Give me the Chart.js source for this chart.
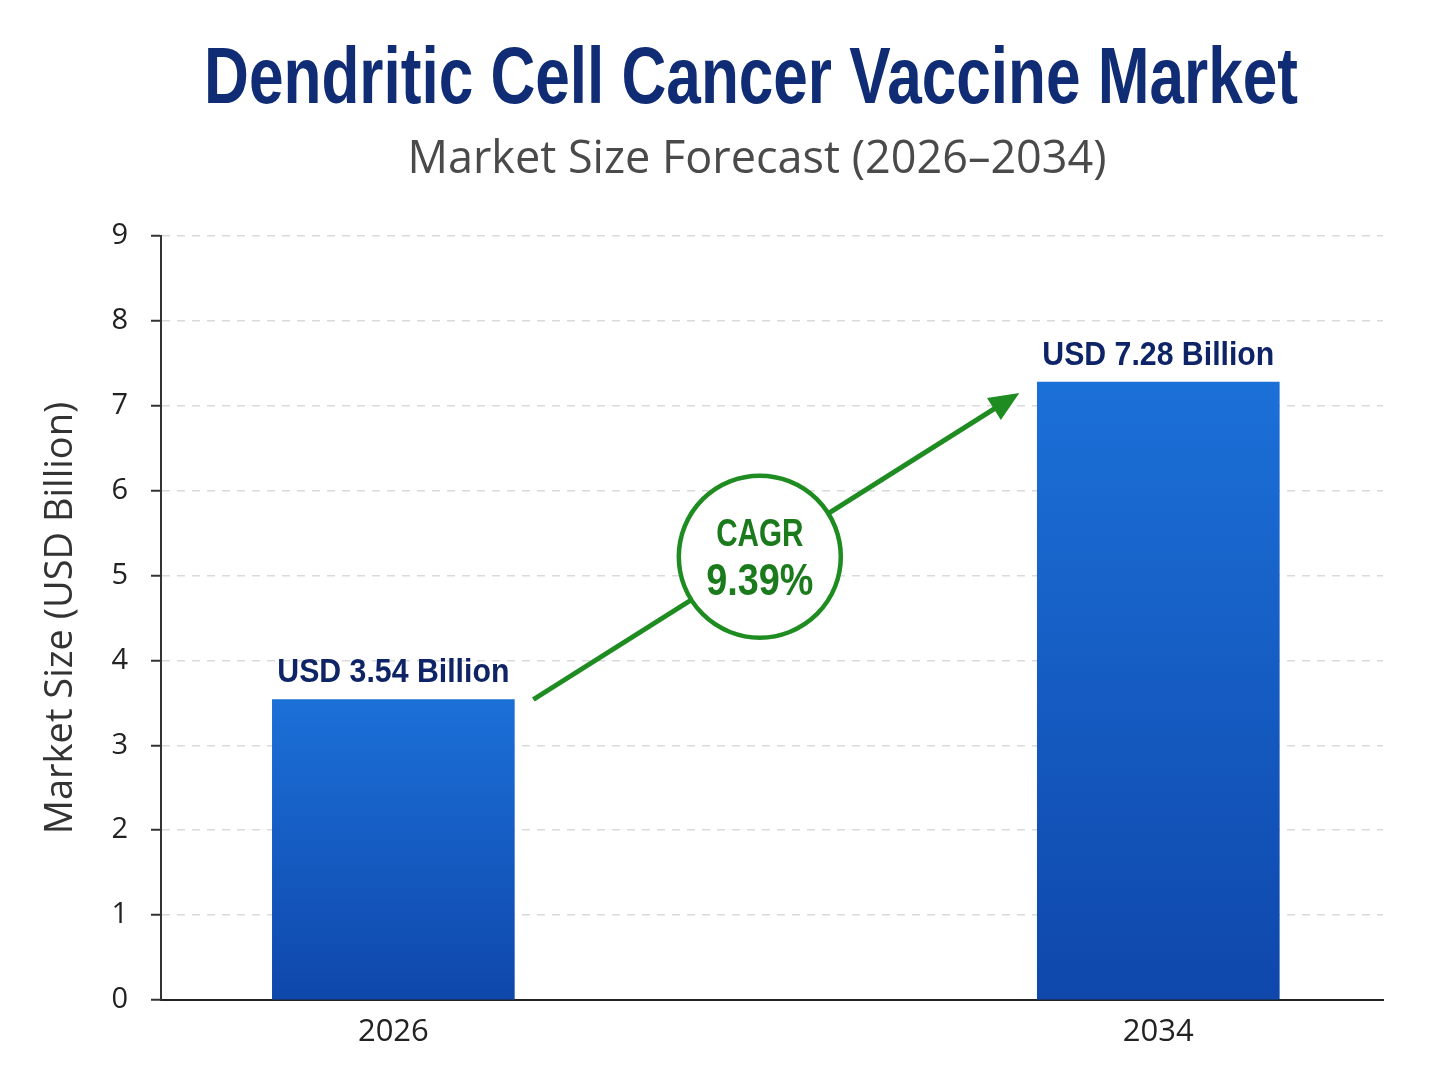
<!DOCTYPE html>
<html>
<head>
<meta charset="utf-8">
<title>Dendritic Cell Cancer Vaccine Market</title>
<script src="https://cdn.jsdelivr.net/npm/chart.js@4.4.1/dist/chart.umd.min.js"></script>
<style>
  html, body { margin: 0; padding: 0; background: #fff; }
  canvas { display: block; }
</style>
</head>
<body>
<canvas id="market-chart" width="1448" height="1086"></canvas>
<script>
// market-size bar chart — dendritic cell cancer vaccine

const years = [2026, 2034];
const marketSize = [3.54, 7.28]; // USD billion
const valueLabels = ["USD 3.54 Billion", "USD 7.28 Billion"];
const cagrText = ["CAGR", "9.39%"];
const yRange = [0, 9];
const heading = "Dendritic Cell Cancer Vaccine Market";
const subheading = "Market Size Forecast (2026\u20132034)";

const BOLD = "'Liberation Sans', Arial, sans-serif";
const NAVY = "#0f2c74";
const GREEN = "#1f8c22";

Chart.defaults.font.family = "'Open Sans', sans-serif";

function barFill(ctx) {
  const chart = ctx.chart;
  const yScale = chart.scales.y;
  if (!chart.chartArea || !yScale || ctx.type !== "data") return "#1560c4";
  const top = yScale.getPixelForValue(marketSize[ctx.dataIndex]);
  const bottom = yScale.getPixelForValue(0);
  const g = chart.ctx.createLinearGradient(0, top, 0, bottom);
  g.addColorStop(0, "#1b70d8");
  g.addColorStop(1, "#0f47ab");
  return g;
}

// bold text squeezed horizontally, to get the condensed look
function narrowText(c, text, x, y, size, squeeze) {
  c.save();
  c.font = "bold " + size + "px " + BOLD;
  c.translate(x, y);
  c.scale(squeeze, 1);
  c.fillText(text, 0, 0);
  c.restore();
}

const headings = {
  id: "headings",
  afterDraw(chart) {
    const c = chart.ctx;
    c.save();
    c.textAlign = "center";
    c.textBaseline = "alphabetic";
    c.fillStyle = NAVY;
    narrowText(c, heading, 751, 103, 80, 0.776);
    c.fillStyle = "#4a4a4a";
    c.font = "45px 'Open Sans', sans-serif";
    c.fillText(subheading, 757, 173);
    c.restore();
  }
};

// value labels + CAGR arrow / badge
const annotations = {
  id: "annotations",
  afterDatasetsDraw(chart) {
    const c = chart.ctx;
    const bars = chart.getDatasetMeta(0).data.map(b => b.getProps(["x", "y", "width"], true));

    c.save();
    c.textAlign = "center";
    c.textBaseline = "alphabetic";
    c.fillStyle = "#0e2467";
    bars.forEach((b, i) => narrowText(c, valueLabels[i], b.x, b.y - 17, 34, 0.89));

    const a = bars[0], b = bars[1];
    const x1 = a.x + a.width / 2 + 19, y1 = a.y;
    const x2 = b.x - b.width / 2 - 18, y2 = b.y + 11;
    const ang = Math.atan2(y2 - y1, x2 - x1);
    const head = 30, half = 13;

    c.strokeStyle = GREEN;
    c.fillStyle = GREEN;
    c.lineWidth = 5;
    c.beginPath();
    c.moveTo(x1, y1);
    c.lineTo(x2 - Math.cos(ang) * (head - 4), y2 - Math.sin(ang) * (head - 4));
    c.stroke();

    c.beginPath();
    c.moveTo(x2, y2);
    c.lineTo(x2 - head * Math.cos(ang) + half * Math.sin(ang), y2 - head * Math.sin(ang) - half * Math.cos(ang));
    c.lineTo(x2 - head * Math.cos(ang) - half * Math.sin(ang), y2 - head * Math.sin(ang) + half * Math.cos(ang));
    c.closePath();
    c.fill();

    const t = 0.466;
    const cx = x1 + (x2 - x1) * t, cy = y1 + (y2 - y1) * t;
    c.beginPath();
    c.arc(cx, cy, 81, 0, Math.PI * 2);
    c.fillStyle = "#fff";
    c.fill();
    c.lineWidth = 4.5;
    c.strokeStyle = GREEN;
    c.stroke();

    c.fillStyle = "#1a7a1c";
    narrowText(c, cagrText[0], cx, cy - 11, 38, 0.78);
    narrowText(c, cagrText[1], cx, cy + 38, 45, 0.84);
    c.restore();
  }
};

new Chart(document.getElementById("market-chart"), {
  type: "bar",
  data: {
    datasets: [{
      data: years.map((yr, i) => ({ x: yr, y: marketSize[i] })),
      backgroundColor: barFill,
      borderWidth: 0,
      barThickness: 242,
    }],
  },
  options: {
    responsive: false,
    animation: false,
    layout: { padding: { left: 0, right: 65, top: 236, bottom: 0 } },
    plugins: {
      legend: { display: false },
      tooltip: { enabled: false },
    },
    scales: {
      x: {
        type: "linear",
        offset: false,
        min: years[0] - 2.43,
        max: years[1] + 2.35,
        afterBuildTicks: scale => { scale.ticks = years.map(v => ({ value: v })); },
        ticks: { color: "#222", font: { size: 31 }, padding: 14, autoSkip: false, maxRotation: 0, callback: v => String(v) },
        grid: { display: false, drawTicks: false, offset: false },
        border: { color: "#222", width: 2 },
        afterFit: scale => { scale.height = 86; },
      },
      y: {
        min: yRange[0],
        max: yRange[1],
        ticks: { stepSize: 1, color: "#222", font: { size: 29 }, padding: 23 },
        grid: { color: "#dadada", lineWidth: 1.5, tickLength: 10, tickColor: "#333", tickWidth: 2 },
        border: { color: "#333", width: 2, dash: [8, 7] },
        title: {
          display: true,
          text: "Market Size (USD Billion)",
          color: "#333",
          font: { size: 38 },
          padding: { top: 38, bottom: 0 },
        },
        afterFit: scale => { scale.width = 161; },
      },
    },
  },
  plugins: [annotations, headings],
});
</script>
</body>
</html>
